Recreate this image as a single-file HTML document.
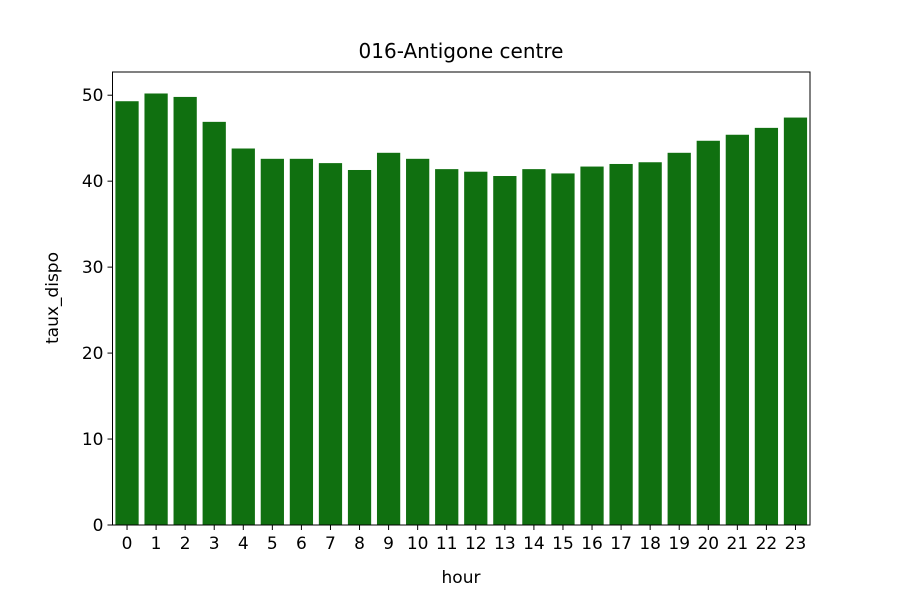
<!DOCTYPE html>
<html><head><meta charset="utf-8"><style>
body{margin:0;background:#fff;}
svg text{font-family:"DejaVu Sans","Liberation Sans",sans-serif;fill:#000;}
</style></head><body>
<svg id="chart" width="900" height="600" xmlns="http://www.w3.org/2000/svg">
<rect width="900" height="600" fill="#fff"/>
<text x="461" y="58" font-size="20" text-anchor="middle">016-Antigone centre</text>
<g id="bars"></g>
<g id="axes"></g>
<text x="461" y="583" font-size="17" text-anchor="middle">hour</text>
<text transform="translate(58,298) rotate(-90)" font-size="17" text-anchor="middle">taux_dispo</text>
</svg>
<script>
const categories=["0","1","2","3","4","5","6","7","8","9","10","11","12","13","14","15","16","17","18","19","20","21","22","23"];
const values=[49.3,50.2,49.8,46.9,43.8,42.6,42.6,42.1,41.3,43.3,42.6,41.4,41.1,40.6,41.4,40.9,41.7,42.0,42.2,43.3,44.7,45.4,46.2,47.4];
const yTicks=[0,10,20,30,40,50];
const L=112.5,R=810,T=72,B=525,yMax=52.7;
const ns="http://www.w3.org/2000/svg";
const step=(R-L)/categories.length;
const xs=i=>L+step*(i+0.5);
const ys=v=>B-(B-T)*v/yMax;
const bars=document.getElementById('bars'),axes=document.getElementById('axes');
function mk(tag,attrs,parent){const e=document.createElementNS(ns,tag);for(const k in attrs)e.setAttribute(k,attrs[k]);parent.appendChild(e);return e;}
values.forEach((v,i)=>{
 const r=mk('rect',{x:xs(i)-step*0.4,y:ys(v),width:step*0.8,height:B-ys(v),fill:'#107010'},bars);
 
 
 mk('line',{x1:xs(i),x2:xs(i),y1:B,y2:B+5,stroke:'#000','stroke-width':1},axes);
 const t=mk('text',{x:xs(i),y:B+24,'font-size':17,'text-anchor':'middle'},axes);
 t.textContent=categories[i];
 
 
});
yTicks.forEach(v=>{
 mk('line',{x1:L-5,x2:L,y1:ys(v),y2:ys(v),stroke:'#000','stroke-width':1},axes);
 const t=mk('text',{x:L-9,y:ys(v)+6,'font-size':17,'text-anchor':'end'},axes);
 t.textContent=v;
 
 
});
const f=mk('rect',{x:L,y:T,width:R-L,height:B-T,fill:'none',stroke:'#000','stroke-width':1},axes);


</script>
</body></html>
